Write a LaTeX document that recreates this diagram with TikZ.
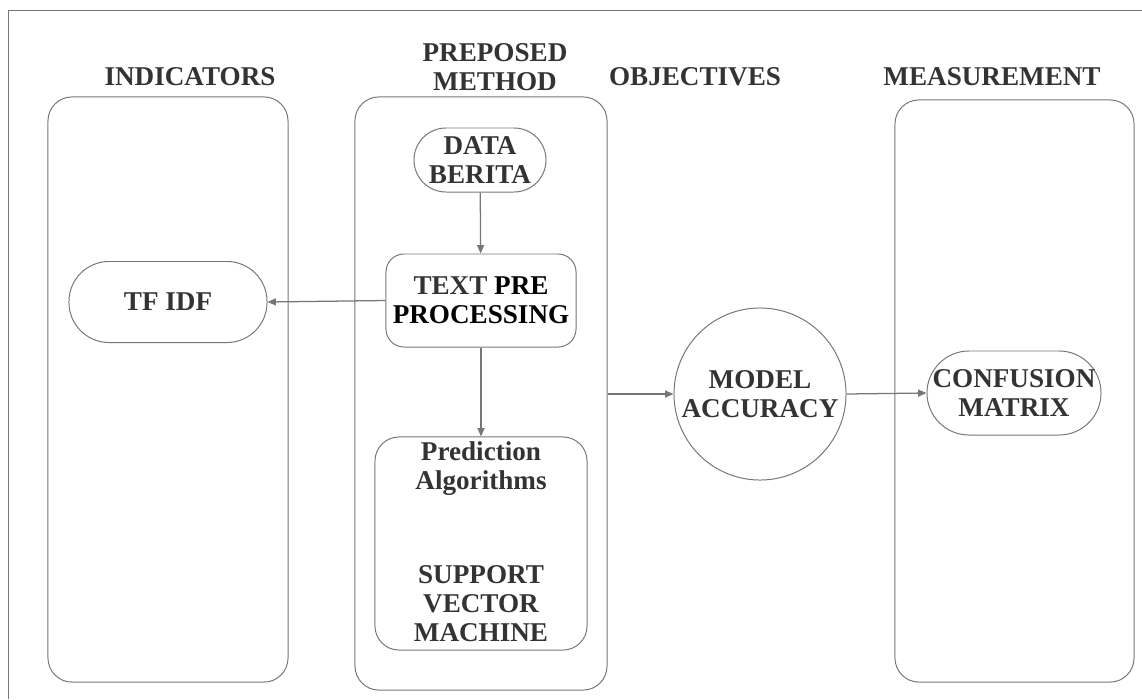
\documentclass[tikz,border=0pt]{standalone}
\usepackage{fontspec}
\setmainfont{Liberation Serif}
\usetikzlibrary{arrows.meta}
\definecolor{linegray}{HTML}{767676}
\definecolor{textgray}{HTML}{333333}
\tikzset{
  column/.style={draw=linegray, line width=0.7pt, rounded corners=0.6cm, inner sep=0pt},
  pill/.style={draw=linegray, line width=0.7pt, align=center, inner sep=0pt, text=textgray},
  title/.style={align=center, inner sep=0pt, text=textgray},
  arr/.style={draw=linegray, line width=0.9pt, -{Triangle[length=6pt,width=5pt]}}
}
\begin{document}
\begin{tikzpicture}[x=0.025cm, y=-0.025cm]
        \useasboundingbox (0,0) rectangle (1142,699);
        {\fontsize{19.3pt}{20.6pt}\selectfont\bfseries

        % Outer frame (cut by the page)
        \draw [draw=linegray, line width=0.7pt] (1142,10) -- (8,10) -- (8,699);%

        % Columns
        \node [column, minimum width=6cm, minimum height=14.625cm] (ind) at (168,389.5) {};%
        \node [column, minimum width=6.3cm, minimum height=14.825cm] (prep) at (481,393.5) {};%
        \node [column, minimum width=5.975cm, minimum height=14.55cm] (meas) at (1014.5,391) {};%

        % Column titles
        \node [title] (tind) at (190,77) {INDICATORS};%
        \node [title] (tprep) at (495,67.5) {PREPOSED\\METHOD};%
        \node [title] (tobj) at (695,77) {OBJECTIVES};%
        \node [title] (tmeas) at (992,77) {MEASUREMENT};%

        % Boxes of the method column
        \node [pill, rounded corners=0.8cm, minimum width=3.3cm, minimum height=1.6cm] (data) at (480,160) {DATA\\BERITA};%
        \node [pill, rounded corners=0.45cm, minimum width=4.75cm, minimum height=2.325cm, text=black] (pre) at (481,300.5) {{\color{textgray}TEXT} PRE\\PROCESSING};%
        \node [pill, rounded corners=0.6cm, minimum width=5.3cm, minimum height=5.325cm] (pred) at (481,543.5) {};%
        \node [title] (predtop) at (481,468.5) {Prediction\\Algorithms};%
        \node [title] (predsvm) at (481,604) {SUPPORT\\VECTOR\\MACHINE};%

        % Indicator, objective and measurement
        \node [pill, rounded corners=1cm, minimum width=4.95cm, minimum height=2.025cm] (tfidf) at (168,302) {TF IDF};%
        \node [pill, circle, minimum size=4.3cm] (acc) at (760,394) {MODEL\\ACCURACY};%
        \node [pill, rounded corners=1.05cm, minimum width=4.35cm, minimum height=2.1cm] (conf) at (1014,393) {CONFUSION\\MATRIX};%

        % Connectors
        \draw [arr] (data) -- (pre);%
        \draw [arr] (pre) -- (pred);%
        \draw [arr] (pre.west) -- (tfidf.east);%
        \draw [arr] (acc.west -| prep.east) -- (acc.west);%
        \draw [arr] (acc.east) -- (conf.west);%
        }
    \end{tikzpicture}
\end{document}
